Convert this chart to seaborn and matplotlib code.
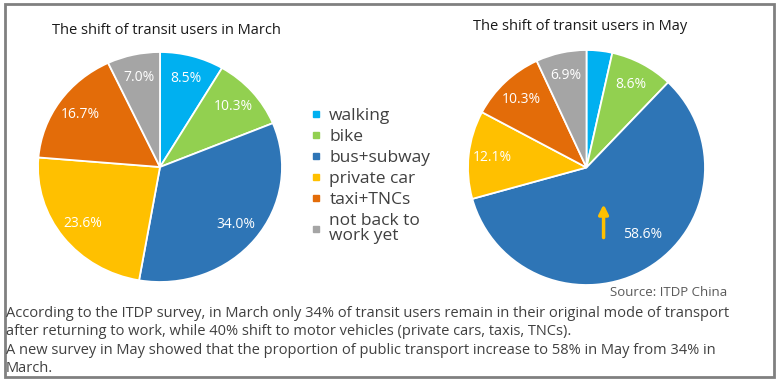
import matplotlib
matplotlib.use('Agg')
import matplotlib.pyplot as plt
import seaborn as sns
from matplotlib.lines import Line2D
from matplotlib.patches import Rectangle

sns.set_theme(style='white')
plt.rcParams['font.family'] = ['Open Sans', 'DejaVu Sans']

# data
modes = ['walking', 'bike', 'bus+subway', 'private car', 'taxi+TNCs', 'not back to\nwork yet']
march = [8.5, 10.3, 34.0, 23.6, 16.7, 7.0]
may = [3.5, 8.6, 58.6, 12.1, 10.3, 6.9]
colors = ['#00B0F0', '#92D050', '#2E75B6', '#FFC000', '#E36C09', '#A5A5A5']
caption = ("According to the ITDP survey, in March only 34% of transit users remain in their original mode of transport\n"
           "after returning to work, while 40% shift to motor vehicles (private cars, taxis, TNCs).\n"
           "A new survey in May showed that the proportion of public transport increase to 58% in May from 34% in\n"
           "March.")

W, H = 780, 381
fig = plt.figure(figsize=(W / 100, H / 100), dpi=100)


def px_axes(left, top, right, bottom):
    return fig.add_axes([left / W, 1 - bottom / H, (right - left) / W, (bottom - top) / H])


def draw_pie(ax, values, hide_small=False):
    def fmt(p):
        if hide_small and p < 5:
            return ''
        return f'{p:.1f}%'
    wedges, texts, autotexts = ax.pie(values, colors=colors, startangle=90, counterclock=False,
                                      autopct=fmt, pctdistance=0.8,
                                      wedgeprops=dict(edgecolor='white', linewidth=1.3),
                                      textprops=dict(color='white', fontsize=10))
    ax.set_aspect('auto')
    ax.set_xlim(-1.0, 1.0)
    ax.set_ylim(-1.0, 1.0)
    return autotexts


ax1 = px_axes(38, 52, 282, 282)
draw_pie(ax1, march)

ax2 = px_axes(468, 50, 705, 285)
at2 = draw_pie(ax2, may, hide_small=True)
at2[2].set_position((0.47, -0.57))
ax2.annotate('', xy=(0.144, -0.29), xytext=(0.144, -0.62),
             arrowprops=dict(arrowstyle='-|>', color='#FFC000', lw=2.5, mutation_scale=14))

fig.text(166 / W, 1 - 31 / H, 'The shift of transit users in March', ha='center', va='center',
         fontsize=10.5, color='#1a1a1a')
fig.text(580 / W, 1 - 27 / H, 'The shift of transit users in May', ha='center', va='center',
         fontsize=10.5, color='#1a1a1a')

handles = [Line2D([], [], marker='s', linestyle='none', markersize=5, color=c) for c in colors]
leg = fig.legend(handles, modes, loc='upper left', bbox_to_anchor=(311 / W, 1 - 108 / H),
                 frameon=False, handlelength=0.6, handletextpad=0.45, labelspacing=0.28,
                 borderpad=0, borderaxespad=0, prop={'size': 12.5},
                 labelcolor='#404040')
for t in leg.get_texts():
    t.set_linespacing(0.95)

fig.text(727 / W, 1 - 293 / H, 'Source: ITDP China', ha='right', va='center',
         fontsize=9.5, color='#595959')
fig.text(6 / W, 1 - 306 / H, caption, ha='left', va='top', fontsize=10.5,
         color='#404040', linespacing=1.31)

fig.patches.append(Rectangle((5 / W, 4 / H), 769 / W, 373 / H, transform=fig.transFigure,
                             fill=False, edgecolor='#808080', linewidth=2))

fig.savefig('out.png', dpi=100)
